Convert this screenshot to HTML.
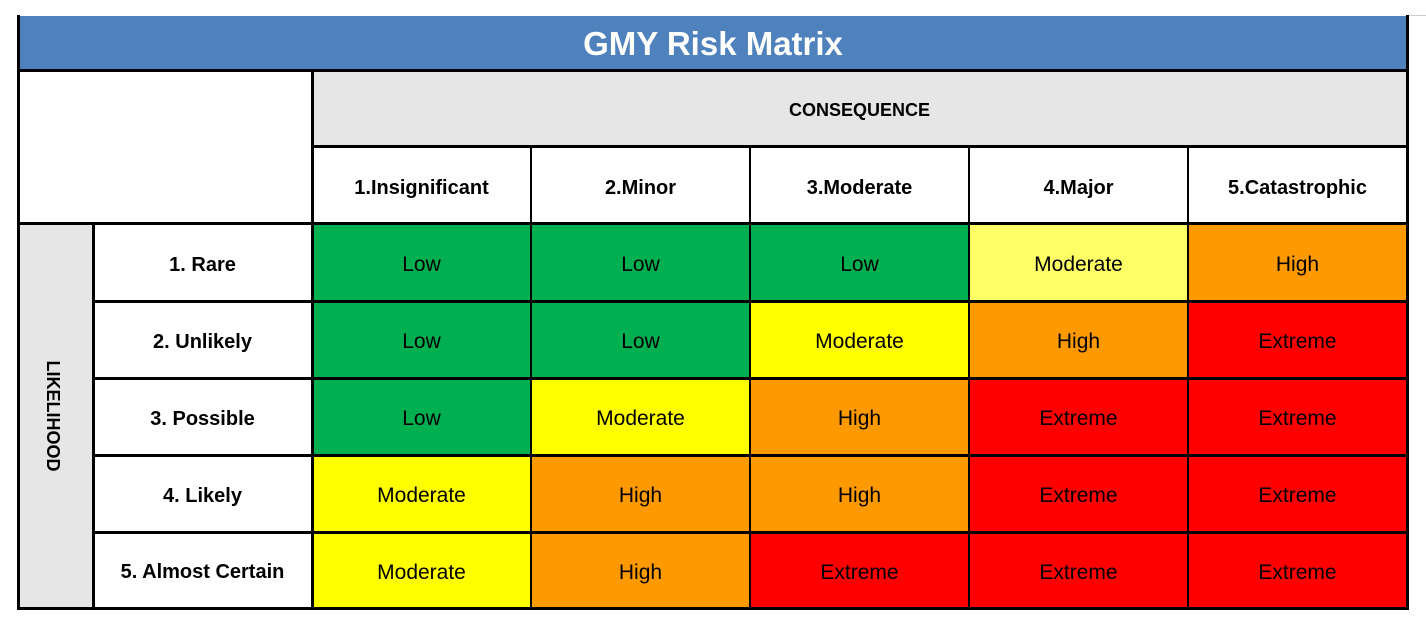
<!DOCTYPE html>
<html><head><meta charset="utf-8">
<style>
body{margin:0;width:1426px;height:619px;background:#fff;position:relative;overflow:hidden;font-family:"Liberation Sans",sans-serif;}
.c{position:absolute;box-sizing:border-box;display:flex;align-items:center;justify-content:center;color:#000;}
.ln{position:absolute;background:#000;}
</style></head><body>
<div style="position:absolute;left:1408px;top:15px;width:18px;height:1px;background:#ccc"></div>
<div id="m"></div>
<script>
const consequences=["1.Insignificant","2.Minor","3.Moderate","4.Major","5.Catastrophic"];
const likelihoods=["1. Rare","2. Unlikely","3. Possible","4. Likely","5. Almost Certain"];
const ratings=[
["Low","Low","Low","Moderate","High"],
["Low","Low","Moderate","High","Extreme"],
["Low","Moderate","High","Extreme","Extreme"],
["Moderate","High","High","Extreme","Extreme"],
["Moderate","High","Extreme","Extreme","Extreme"]];
const lightCells=[[0,3]];
const colors={Low:"#00b050",Moderate:"#ffff00",High:"#ff9900",Extreme:"#ff0000"};
const m=document.getElementById('m');
const colX=[312,531,750,969,1188,1407];
const rowY=[224,301,378,455,532,608];
function box(x,y,w,h,txt,bg,style,name){
  const d=document.createElement('div');d.className='c';
  d.style.cssText+=`left:${x}px;top:${y}px;width:${w}px;height:${h}px;background:${bg};`+(style||'');
  d.textContent=txt;
  
  
  m.appendChild(d);return d;}
box(18,16,1390,54,"GMY Risk Matrix","#4f81bd","color:#fff;font-weight:bold;font-size:33px;padding-top:2px;","title");
box(312,71,1095,76,"CONSEQUENCE","#e6e6e6","font-weight:bold;font-size:18px;padding-top:2px;","consequence-header");
box(18,224,75,385,"","#e6e6e6","","likelihood-axis");
box(0,0,140,30,"LIKELIHOOD","transparent","font-weight:bold;font-size:18px;left:-17px;top:401px;transform:rotate(90deg);","likelihood-title");
consequences.forEach((c,i)=>{box(colX[i],147,colX[i+1]-colX[i],77,c,"#fff","font-weight:bold;font-size:20px;padding-top:5px;","consequence-"+(i+1));});
likelihoods.forEach((l,r)=>{box(93,rowY[r],219,rowY[r+1]-rowY[r],l,"#fff","font-weight:bold;font-size:20px;padding-top:5px;","likelihood-"+(r+1));});
ratings.forEach((row,r)=>row.forEach((v,i)=>{
  let bg=colors[v];
  if(lightCells.some(p=>p[0]===r&&p[1]===i)) bg="#ffff66";
  box(colX[i],rowY[r],colX[i+1]-colX[i],rowY[r+1]-rowY[r],v,bg,"font-size:21px;padding-top:5px;","cell-"+(r+1)+"-"+(i+1));
}));
function line(x,y,w,h,name){const d=document.createElement('div');d.className='ln';
  d.style.cssText=`left:${x}px;top:${y}px;width:${w}px;height:${h}px;`;
  
  
  m.appendChild(d);}
line(17,15,3,595,"border-left");line(1406,15,3,595,"border-right");
line(17,607,1392,3,"border-bottom");line(17,69,1392,3,"border-title");
line(17,222,1392,3,"border-header");line(311,145,1098,3,"border-consequence");
for(let r=1;r<5;r++) line(92,rowY[r]-1,1317,3,"row-line");
line(311,69,3,541,"col-line");line(92,222,3,388,"col-line");
for(let i=1;i<5;i++) line(colX[i]-1,145,2,465,"col-line");
</script>
</body></html>
